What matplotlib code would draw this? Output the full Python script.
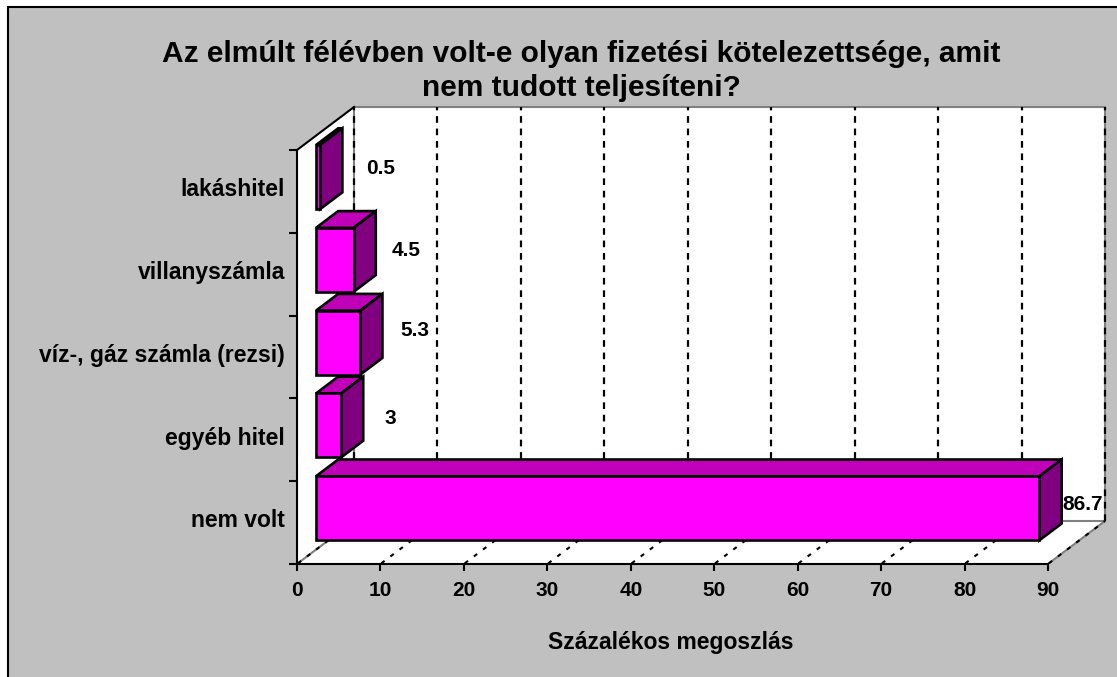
import matplotlib
matplotlib.use("Agg")
import matplotlib.pyplot as plt
from matplotlib.patches import Polygon, Rectangle

categories = ['lakáshitel', 'villanyszámla', 'víz-, gáz számla (rezsi)', 'egyéb hitel', 'nem volt']
values = [0.5, 4.5, 5.3, 3, 86.7]
value_labels = ['0.5', '4.5', '5.3', '3', '86.7']
x_ticks = [0, 10, 20, 30, 40, 50, 60, 70, 80, 90]

W, H = 1117, 677
X0, Y0 = 297, 564      # pixel position of the axes origin
PX_PER_X = 8.344       # pixels per percent
PX_PER_CAT = 82.8      # pixels per category band
DX, DY = 57 / PX_PER_X, 43 / PX_PER_CAT   # 3D depth in data units
GRAY = '#c0c0c0'
FRONT, TOP, SIDE = '#ff00ff', '#c000b8', '#800080'

plt.rcParams['font.family'] = ['Liberation Sans', 'DejaVu Sans']
plt.rcParams['font.weight'] = 'bold'

fig = plt.figure(figsize=(W / 100, H / 100), dpi=100, facecolor='white')
ax = fig.add_axes([0, 0, 1, 1])
ax.patch.set_visible(False)
ax.set_xlim(-X0 / PX_PER_X, (W - X0) / PX_PER_X)
ax.set_ylim((Y0 - H) / PX_PER_CAT, Y0 / PX_PER_CAT)


def ax_frac(px, py):
    return px / W, 1 - py / H


# gray panel with a black frame, cut by the image on the right and bottom
ax.add_patch(Rectangle(ax_frac(8, H + 10), 1.1, (H + 10 - 7) / H, transform=ax.transAxes,
                       fc=GRAY, ec='black', lw=1.5, zorder=0))

n = len(categories)
# walls and floor
ax.add_patch(Polygon([(0, 0), (DX, DY), (DX, n + DY), (0, n)], fc='white', ec='none', zorder=1))
ax.add_patch(Polygon([(DX, DY), (90 + DX, DY), (90 + DX, n + DY), (DX, n + DY)], fc='white', ec='none', zorder=1))
ax.add_patch(Polygon([(0, 0), (90, 0), (90 + DX, DY), (DX, DY)], fc='white', ec='none', zorder=1))

ax.plot([DX, 90 + DX, 90 + DX, DX, DX], [n + DY, n + DY, DY, DY, n + DY], color='#808080', lw=1.5, zorder=2)
ax.plot([0, DX], [0, DY], color='#808080', lw=1.5, zorder=2)
ax.plot([90, 90 + DX], [0, DY], color='#808080', lw=1.5, zorder=2)
ax.plot([0, DX], [n, n + DY], color='black', lw=1.5, zorder=3)

# dashed grid on back wall and floor
for t in x_ticks:
    ax.plot([t + DX, t + DX], [DY, n + DY], color='black', lw=1.6, ls=(0, (3, 2.6)), zorder=3)
    ax.plot([t, t + DX], [0, DY], color='black', lw=1.5, ls=(5, (2, 3.5)), zorder=3)

# bars, from the back one to the front one
x_start = DX * 0.333
y_shift = DY * 0.333
bar_h = 0.773
dep_x, dep_y = DX * 0.39, DY * 0.39
for i, v in enumerate(values):
    yb = n - 1 - i + (1 - bar_h) / 2 + y_shift
    yt = yb + bar_h
    xl = x_start
    xr = x_start + v
    z = 5 + i
    ax.add_patch(Polygon([(xl, yt), (xr, yt), (xr + dep_x, yt + dep_y), (xl + dep_x, yt + dep_y)],
                         fc=TOP, ec='black', lw=1.9, zorder=z))
    ax.add_patch(Polygon([(xr, yb), (xr + dep_x, yb + dep_y), (xr + dep_x, yt + dep_y), (xr, yt)],
                         fc=SIDE, ec='black', lw=1.9, zorder=z))
    ax.add_patch(Polygon([(xl, yb), (xr, yb), (xr, yt), (xl, yt)],
                         fc=FRONT, ec='black', lw=1.9, zorder=z))

# value labels (left edge, centre height in pixels)
label_pos = [(366, 168), (392, 251), (400, 330), (384, 418), (1062, 505)]
for txt, (px, py) in zip(value_labels, label_pos):
    fx, fy = ax_frac(px, py)
    ax.text(fx, fy, txt, transform=ax.transAxes, ha='left', va='center', fontsize=15, zorder=20)

# axes
for s in ['top', 'right']:
    ax.spines[s].set_visible(False)
ax.spines['bottom'].set_position(('data', 0))
ax.spines['left'].set_position(('data', 0))
ax.spines['bottom'].set_bounds(0, 90)
ax.spines['left'].set_bounds(0, n)
ax.spines['bottom'].set_linewidth(1.5)
ax.spines['left'].set_linewidth(1.5)
ax.spines['bottom'].set_zorder(4)
ax.spines['left'].set_zorder(4)

ax.set_xticks(x_ticks)
ax.set_yticks(range(n + 1), labels=[''] * (n + 1))
ax.set_yticks([n - 1 - i + 0.55 for i in range(n)], labels=categories, minor=True)
ax.tick_params(axis='x', length=5, width=1.5, labelsize=15, pad=7)
ax.tick_params(axis='y', which='major', length=6, width=1.5)
ax.tick_params(axis='y', which='minor', length=0, labelsize=16.5, pad=8.6)

fx, fy = ax_frac(671, 642)
ax.text(fx, fy, 'Százalékos megoszlás', transform=ax.transAxes, ha='center', va='center', fontsize=16.5)
fx, fy = ax_frac(581, 71)
ax.text(fx, fy, 'Az elmúlt félévben volt-e olyan fizetési kötelezettsége, amit\nnem tudott teljesíteni?',
        transform=ax.transAxes, ha='center', va='center', fontsize=21.5, linespacing=1.3)

fig.savefig('out.png', dpi=100)
